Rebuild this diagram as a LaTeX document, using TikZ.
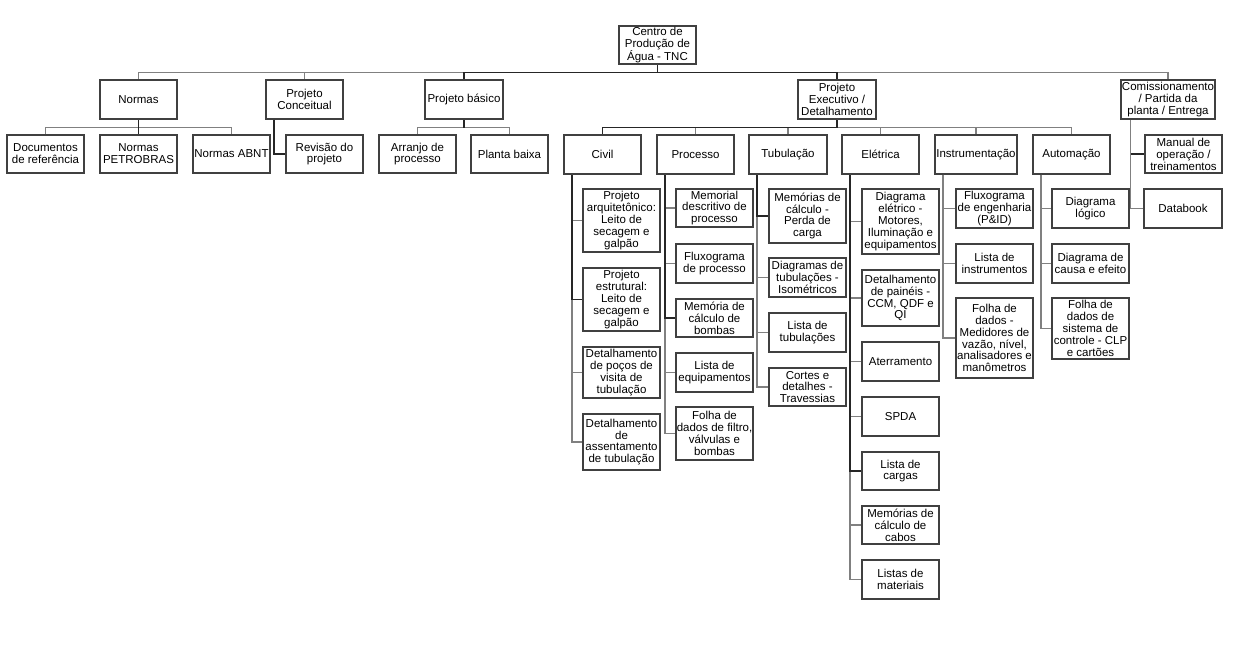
\documentclass[tikz,border=0pt]{standalone}
\usepackage{fontspec}
\setmainfont{Liberation Sans}
\tikzset{
  box/.style={draw=black!75, line width=1.4pt, fill=white, align=center, inner xsep=0.3pt, inner ysep=1pt,
    font=\fontsize{11.5}{11.9}\selectfont},
  conn/.style={draw=black!50, line width=1.5pt},
  darkconn/.style={draw=black!85, line width=1.5pt}
}
\newcommand\bx[6]{\node[box, minimum width={#4-#2}, minimum height={#5-#3}] (#1) at ({(#2+#4)/2},{(#3+#5)/2}) {#6};}
\begin{document}
\begin{tikzpicture}[x=1pt,y=-1pt]
\useasboundingbox[fill=white] (0,0) rectangle (1249,671);
% connector anchors need nodes first, so nodes drawn, then connectors (they meet at borders)
% root
\bx{root}{619}{26}{696}{64}{Centro de\\Produção de\\Água - TNC}
% level 1
\bx{normas}{100}{80}{177}{119}{Normas}
\bx{conc}{266}{80}{343}{119}{Projeto\\Conceitual}
\bx{basico}{425}{80}{503}{119}{Projeto básico}
\bx{exec}{798}{80}{876}{119}{Projeto\\Executivo /\\Detalhamento}
\bx{comis}{1121}{80}{1215}{119}{Comissionamento\\/ Partida da\\planta / Entrega}
% normas children
\bx{docs}{7}{135}{84}{173}{Documentos\\de referência}
\bx{petro}{100}{135}{177}{173}{Normas\\PETROBRAS}
\bx{abnt}{193}{135}{270}{173}{Normas ABNT}
% conceitual
\bx{revisao}{286}{135}{363}{173}{Revisão do\\projeto}
% basico
\bx{arranjo}{379}{135}{456}{173}{Arranjo de\\processo}
\bx{planta}{471}{135}{548}{173}{Planta baixa}
% executivo children
\bx{civil}{564}{135}{641}{174}{Civil}
\bx{proc}{657}{135}{734}{174}{Processo}
\bx{tub}{749}{135}{827}{174}{Tubulação}
\bx{elet}{842}{135}{919}{174}{Elétrica}
\bx{instr}{935}{135}{1017}{174}{Instrumentação}
\bx{auto}{1033}{135}{1110}{174}{Automação}
% comissionamento children
\bx{manual}{1145}{135}{1222}{173}{Manual de\\operação /\\treinamentos}
\bx{databook}{1144}{189}{1222}{228}{Databook}
% civil children
\bx{c1}{583}{189}{660}{252}{Projeto\\arquitetônico:\\Leito de\\secagem e\\galpão}
\bx{c2}{583}{268}{660}{331}{Projeto\\estrutural:\\Leito de\\secagem e\\galpão}
\bx{c3}{583}{347}{660}{398}{Detalhamento\\de poços de\\visita de\\tubulação}
\bx{c4}{583}{414}{660}{470}{Detalhamento\\de\\assentamento\\de tubulação}
% processo children
\bx{p1}{676}{189}{753}{227}{Memorial\\descritivo de\\processo}
\bx{p2}{676}{244}{753}{283}{Fluxograma\\de processo}
\bx{p3}{676}{299}{753}{337}{Memória de\\cálculo de\\bombas}
\bx{p4}{676}{353}{753}{392}{Lista de\\equipamentos}
\bx{p5}{676}{407}{753}{460}{Folha de\\dados de filtro,\\válvulas e\\bombas}
% tubulacao children
\bx{t1}{769}{189}{846}{243}{Memórias de\\cálculo -\\Perda de\\carga}
\bx{t2}{769}{258}{846}{297}{Diagramas de\\tubulações -\\Isométricos}
\bx{t3}{769}{313}{846}{352}{Lista de\\tubulações}
\bx{t4}{769}{368}{846}{406}{Cortes e\\detalhes -\\Travessias}
% eletrica children
\bx{e1}{862}{189}{939}{254}{Diagrama\\elétrico -\\Motores,\\Iluminação e\\equipamentos}
\bx{e2}{862}{270}{939}{326}{Detalhamento\\de painéis -\\CCM, QDF e\\QI}
\bx{e3}{862}{342}{939}{381}{Aterramento}
\bx{e4}{862}{397}{939}{436}{SPDA}
\bx{e5}{862}{452}{939}{490}{Lista de\\cargas}
\bx{e6}{862}{506}{939}{544}{Memórias de\\cálculo de\\cabos}
\bx{e7}{862}{560}{939}{599}{Listas de\\materiais}
% instrumentacao children
\bx{i1}{956}{189}{1033}{228}{Fluxograma\\de engenharia\\(P\&ID)}
\bx{i2}{956}{244}{1033}{283}{Lista de\\instrumentos}
\bx{i3}{956}{298}{1033}{378}{Folha de\\dados -\\Medidores de\\vazão, nível,\\analisadores e\\manômetros}
% automacao children
\bx{a1}{1052}{189}{1129}{228}{Diagrama\\lógico}
\bx{a2}{1052}{244}{1129}{283}{Diagrama de\\causa e efeito}
\bx{a3}{1052}{298}{1129}{359}{Folha de\\dados de\\sistema de\\controle - CLP\\e cartões}
% connectors level 1
\foreach \c in {normas,conc,basico,exec,comis}
  \draw[conn] (root.south) -- ++(0,8) -| (\c.north);
\draw[darkconn] (root.south) -- ++(0,8) -| (basico.north);
\draw[darkconn] (root.south) -- ++(0,8) -| (exec.north);
% normas
\foreach \c in {docs,petro,abnt}
  \draw[conn] (normas.south) -- ++(0,8) -| (\c.north);
\draw[darkconn] (normas.south) -- (petro.north);
% basico
\foreach \c in {arranjo,planta}
  \draw[conn] (basico.south) -- ++(0,8) -| (\c.north);
\draw[darkconn] (basico.south) -- ++(0,8);
% executivo
\foreach \c in {civil,proc,tub,elet,instr,auto}
  \draw[conn] (exec.south) -- ++(0,8) -| (\c.north);
\draw[darkconn] (exec.south) -- ++(0,8) -| (civil.north);
% side branches
\draw[darkconn] ([xshift=8.5pt]conc.south west) |- (revisao.west);
\foreach \c in {c1,c2,c3,c4}
  \draw[conn] ([xshift=8.5pt]civil.south west) |- (\c.west);
\draw[darkconn] ([xshift=8.5pt]civil.south west) |- (c2.west);
\foreach \c in {p1,p2,p3,p4,p5}
  \draw[conn] ([xshift=8.5pt]proc.south west) |- (\c.west);
\draw[darkconn] ([xshift=8.5pt]proc.south west) |- (p3.west);
\foreach \c in {t1,t2,t3,t4}
  \draw[conn] ([xshift=8.5pt]tub.south west) |- (\c.west);
\draw[darkconn] ([xshift=8.5pt]tub.south west) |- (t1.west);
\foreach \c in {e1,e2,e3,e4,e5,e6,e7}
  \draw[conn] ([xshift=8.5pt]elet.south west) |- (\c.west);
\draw[darkconn] ([xshift=8.5pt]elet.south west) |- (e5.west);
\foreach \c in {i1,i2,i3}
  \draw[conn] ([xshift=8.5pt]instr.south west) |- (\c.west);
\foreach \c in {a1,a2,a3}
  \draw[conn] ([xshift=8.5pt]auto.south west) |- (\c.west);
\draw[darkconn] ([xshift=10pt]comis.south west) |- (manual.west);
\draw[conn] ([xshift=10pt]comis.south west) |- (databook.west);
\end{tikzpicture}
\end{document}
